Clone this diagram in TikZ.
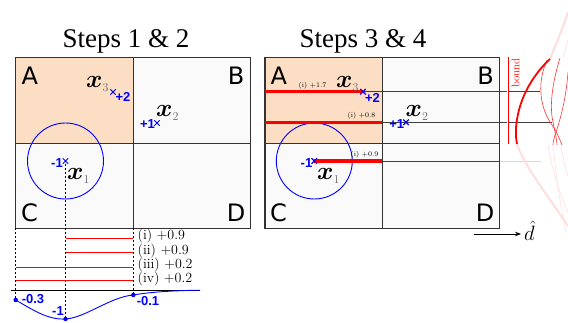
\documentclass[tikz,border=0pt]{standalone}
\usepackage{amsmath}
\usepackage{bm}
\usepackage{fontspec}
\newfontfamily\titlefont{Liberation Serif}
\newfontfamily\letterfont{DejaVu Sans}
\newfontfamily\numfont{Liberation Sans}
\usetikzlibrary{arrows.meta,shapes.misc}
\definecolor{peach}{RGB}{252,222,196}
\definecolor{cellgray}{RGB}{250,250,250}
\begin{document}
\begin{tikzpicture}[x=1pt,y=-1pt,
  gridln/.style={draw=black!80,line width=1.3pt},
  ptmark/.style={cross out,draw=blue,line width=0.9pt,minimum size=4.5pt,inner sep=0pt},
  bluelbl/.style={text=blue,font=\numfont\bfseries\fontsize{13}{13}\selectfont,inner sep=0pt},
  cellltr/.style={font=\letterfont\fontsize{24}{24}\selectfont,inner sep=0pt},
  xlbl/.style={font=\fontsize{26}{26}\selectfont,inner sep=0pt,anchor=base west},
  dotln/.style={black,line width=0.8pt,dash pattern=on 2pt off 2pt},
  thinred/.style={red,line width=1pt},
  thickred/.style={red,line width=3.5pt},
  steplbl/.style={font=\fontsize{14}{14}\selectfont,inner sep=0pt,anchor=west},
  tinylbl/.style={font=\fontsize{7}{7}\selectfont,inner sep=0.5pt,anchor=south east},
  bluedot/.style={circle,fill=blue,inner sep=0pt,minimum size=4.5pt},
  titlestyle/.style={font=\titlefont\fontsize{27}{27}\selectfont,anchor=base},
  projln/.style={black!75,line width=0.7pt},
  fadeline/.style={red!14,line width=1.8pt},
  fadethin/.style={red!12,line width=0.6pt},
  samp/.style={red!80,line width=0.6pt}
]
\useasboundingbox (0,0) rectangle (568,323);

% titles
\node[titlestyle] (t1) at (126,48) {Steps 1 \& 2};
\node[titlestyle] (t2) at (363,48) {Steps 3 \& 4};

% ---------- left grid ----------
\fill[peach] (15.7,57.3) rectangle (133.3,143.7);
\fill[cellgray] (133.3,57.3) rectangle (250.7,143.7);
\fill[cellgray] (15.7,143.7) rectangle (250.7,228.5);
\draw[blue,line width=0.9pt] (65.5,161) circle[radius=38pt];
\draw[gridln] (15.7,57.3) rectangle (250.7,228.5);
\draw[gridln] (133.3,57.3) -- (133.3,228.5) (15.7,143.7) -- (250.7,143.7);

\node[cellltr,anchor=base west] (la) at (21.5,85) {A};
\node[cellltr,anchor=base east] (lb) at (244.5,85) {B};
\node[cellltr,anchor=base west] (lc) at (21,222) {C};
\node[cellltr,anchor=base east] (ld) at (245.5,222) {D};

\node[ptmark] (p1) at (65.5,161) {};
\node[ptmark] (p2) at (157,123) {};
\node[ptmark] (p3) at (113,92) {};
\node[bluelbl] (l1) at (57,163.5) {-1};
\node[bluelbl] (l2) at (147.5,124.5) {+1};
\node[bluelbl] (l3) at (123,97) {+2};
\node[xlbl] (x1) at (67,180) {$\bm{x}_{\textcolor{black!60}{\scriptscriptstyle 1}}$};
\node[xlbl] (x2) at (156,116.5) {$\bm{x}_{\textcolor{black!60}{\scriptscriptstyle 2}}$};
\node[xlbl] (x3) at (86,88) {$\bm{x}_{\textcolor{black!60}{\scriptscriptstyle 3}}$};

% projection / dotted lines
\coordinate (q1) at (15.7,300);
\coordinate (q2) at (65.5,319);
\coordinate (q3) at (133.3,295);
\coordinate (qend) at (200,290.2);
\coordinate (gl) at (15.7,228.5);
\coordinate (gm) at (133.3,228.5);
\draw[dotln] (gl) -- (q1);
\draw[dotln] (p1.south) -- (q2);
\draw[dotln] (gm) -- (q3);

% red intervals
\draw[thinred] (65.5,238.3) -- (133.3,238.3);
\draw[thinred] (65.5,252.7) -- (133.3,252.7);
\draw[thinred] (15.7,267.3) -- (133.3,267.3);
\draw[thinred] (15.7,280.3) -- (133.3,280.3);
\node[steplbl] (s1) at (137.5,236.5) {(i) +0.9};
\node[steplbl] (s2) at (137.5,251) {(ii) +0.9};
\node[steplbl] (s3) at (137.5,265.5) {(iii) +0.2};
\node[steplbl] (s4) at (137.5,279) {(iv) +0.2};

% axis and blue curve
\coordinate (ax0) at (11,290.7);
\coordinate (ax1) at (200,290.7);
\draw[black,line width=1.2pt] (ax0) -- (ax1);
\draw[blue,line width=0.9pt] (q1) .. controls (33,310) and (48,320) .. (q2)
  .. controls (85,318) and (110,297) .. (q3) .. controls (150,292) and (175,290.5) .. (qend);
\node[bluedot] (d1) at (q1) {};
\node[bluedot] (d2) at (q2) {};
\node[bluedot] (d3) at (q3) {};
\node[bluelbl] (v1) at (33,299.5) {-0.3};
\node[bluelbl] (v2) at (58,311.5) {-1};
\node[bluelbl] (v3) at (148,301) {-0.1};

% ---------- right grid ----------
\fill[peach] (265,57.3) rectangle (382.3,143.7);
\fill[cellgray] (382.3,57.3) rectangle (499.7,143.7);
\fill[cellgray] (265,143.7) rectangle (499.7,228.5);
\draw[blue,line width=0.9pt] (314.3,161) circle[radius=38pt];

% projection lines to the right
\node[ptmark] (r1) at (314.3,161) {};
\node[ptmark] (r2) at (406,122.3) {};
\node[ptmark] (r3) at (363,91.7) {};
\coordinate (e3) at (540,91.7);
\coordinate (e2) at (552,122.3);
\coordinate (m2) at (382.3,122.3);
\coordinate (m1) at (382.3,161);
\coordinate (b1) at (499.7,161);
\coordinate (e1) at (541,161);
\coordinate (s3l) at (265,91.7);
\coordinate (s2l) at (265,122.3);
\draw[projln] (r3.center) -- (e3);
\draw[projln] (m2) -- (e2);
\draw[projln] (m1) -- (b1);
\draw[black!15,line width=0.7pt] (b1) -- (e1);

\draw[gridln] (265,57.3) rectangle (499.7,228.5);
\draw[gridln] (382.3,57.3) -- (382.3,228.5) (265,143.7) -- (499.7,143.7);

\node[cellltr,anchor=base west] (ra) at (270.5,85) {A};
\node[cellltr,anchor=base east] (rb) at (494,85) {B};
\node[cellltr,anchor=base west] (rc) at (270,222) {C};
\node[cellltr,anchor=base east] (rd) at (494.5,222) {D};

\draw[thickred] (s3l) -- (r3.center);
\draw[thickred] (s2l) -- (m2);
\draw[thickred] (r1.center) -- (m1);
\node[ptmark] at (r3) {};
\node[ptmark] at (r1) {};
\node[ptmark] at (r2) {};

\node[tinylbl] (u1) at (327,89.5) {(i) +1.7};
\node[tinylbl] (u2) at (376,120) {(i) +0.8};
\node[tinylbl] (u3) at (379,158.5) {(i) +0.9};

\node[bluelbl] (rl1) at (306.5,163) {-1};
\node[bluelbl] (rl2) at (396.7,124.5) {+1};
\node[bluelbl] (rl3) at (372.5,98) {+2};
\node[xlbl] (rx1) at (317,180) {$\bm{x}_{\textcolor{black!60}{\scriptscriptstyle 1}}$};
\node[xlbl] (rx2) at (405.5,116.5) {$\bm{x}_{\textcolor{black!60}{\scriptscriptstyle 2}}$};
\node[xlbl] (rx3) at (336,88) {$\bm{x}_{\textcolor{black!60}{\scriptscriptstyle 3}}$};

% bound
\coordinate (bd0) at (507.8,57.3);
\coordinate (bd1) at (507.8,144);
\draw[red,double=white,line width=0.7pt,double distance=1.2pt] (bd0) -- (bd1);
\node[red,rotate=90,font=\fontsize{11}{11}\selectfont,inner sep=0pt] (bnd) at (515.5,73) {bound};

% distributions
\draw[fadeline] (550,59) .. controls (556,44) and (563,28) .. (568,12);
\draw[fadeline] (517,144) .. controls (524,165) and (545,192) .. (568,226);
\draw[fadethin] (563,58) .. controls (565,50) and (567,44) .. (568,40);
\draw[fadethin] (553,145) .. controls (556,175) and (560,205) .. (566,232);
\draw[fadethin] (561,145) .. controls (563,160) and (566,170) .. (568,176);
\draw[fadethin] (548,145) .. controls (552,170) and (560,195) .. (568,212);
\draw[samp] (547,60) .. controls (538,80) and (538,105) .. (552,125) .. controls (557,132) and (560,140) .. (562,145);
\draw[samp] (560,58) .. controls (553,80) and (549,105) .. (553,122) .. controls (555,132) and (557,140) .. (557,145);
\draw[samp] (568,72) .. controls (566,100) and (560,120) .. (556,132) .. controls (554,138) and (553,142) .. (553,145);
\draw[red,line width=1.8pt] (517,144) .. controls (513,125) and (519,88) .. (550,59);

% d-hat axis
\node[font=\fontsize{22}{22}\selectfont,inner sep=0pt,anchor=west] (dh) at (524,231) {$\hat{d}$};
\coordinate (da) at (474,234);
\coordinate (dz) at (521,234);
\draw[-{Stealth[length=6pt,width=4.5pt]},line width=0.8pt] (da) -- (dz);
\end{tikzpicture}
\end{document}
